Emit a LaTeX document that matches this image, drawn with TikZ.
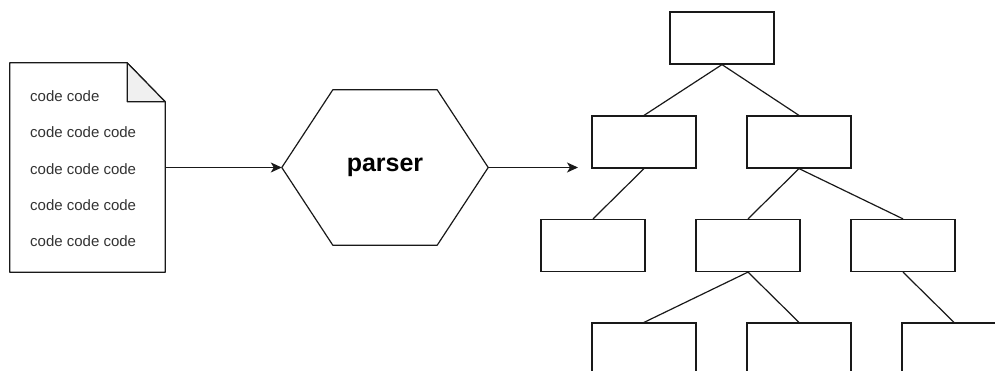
\documentclass[tikz,border=0pt]{standalone}
\usepackage{fontspec}
\setmainfont{Liberation Sans}
\usetikzlibrary{arrows.meta,calc}
\begin{document}
\begin{tikzpicture}[x=1pt,y=-1pt,
  line/.style={draw=black!90,line width=1.2pt},
  frame/.style={rectangle, minimum width=#1, inner sep=0pt},
  box/.style={line, rectangle, minimum width=104pt, minimum height=52pt, inner sep=0pt},
  codeline/.style={anchor=west, font=\fontsize{15}{17}\selectfont, text=black!80, inner sep=0pt},
  flow/.style={line, -{Stealth[length=11pt,width=10pt,inset=3pt]}},
  link/.style={line}]
\useasboundingbox (0,0) rectangle (995,371);
\clip (0,0) rectangle (995,371);

% source file with a folded corner
\node[frame=155pt, minimum height=209pt] (doc) at (87.5,167.5) {};
\draw[line, fill=white, line join=round]
  (doc.north west) -- ($(doc.north east)+(-38,0)$) -- ($(doc.north east)+(0,39)$)
  -- (doc.south east) -- (doc.south west) -- cycle;
\draw[line, fill=black!6, line join=round]
  ($(doc.north east)+(-38,0)$) -- ($(doc.north east)+(-38,39)$) -- ($(doc.north east)+(0,39)$) -- cycle;
\node[codeline] (c1) at (30,96)  {code code};
\node[codeline] (c2) at (30,132) {code code code};
\node[codeline] (c3) at (30,169) {code code code};
\node[codeline] (c4) at (30,205) {code code code};
\node[codeline] (c5) at (30,241) {code code code};

% parser stage
\node[frame=206pt, minimum height=155pt, font=\bfseries\fontsize{25}{28}\selectfont] (hex) at (385,167.5) {parser};
\draw[line, line join=round]
  (hex.west) -- ($(hex.north west)+(51,0)$) -- ($(hex.north east)+(-51,0)$) -- (hex.east)
  -- ($(hex.south east)+(-51,0)$) -- ($(hex.south west)+(51,0)$) -- cycle;

\coordinate (treein) at (578,167.5);
\draw[flow] (doc.east) -- (hex.west);
\draw[flow] (hex.east) -- (treein);

% syntax tree
\node[box] (r)  at (722,38)    {};
\node[box] (a)  at (644,142)   {};
\node[box] (b)  at (799,142)   {};
\node[box] (aa) at (593,245.5) {};
\node[box] (ba) at (748,245.5) {};
\node[box] (bb) at (903,245.5) {};
\node[box] (x1) at (644,349)   {};
\node[box] (x2) at (799,349)   {};
\node[box] (x3) at (954,349)   {};

\draw[link] (r.south) -- (a.north);
\draw[link] (r.south) -- (b.north);
\draw[link] (a.south) -- (aa.north);
\draw[link] (b.south) -- (ba.north);
\draw[link] (b.south) -- (bb.north);
\draw[link] (ba.south) -- (x1.north);
\draw[link] (ba.south) -- (x2.north);
\draw[link] (bb.south) -- (x3.north);
\end{tikzpicture}
\end{document}
